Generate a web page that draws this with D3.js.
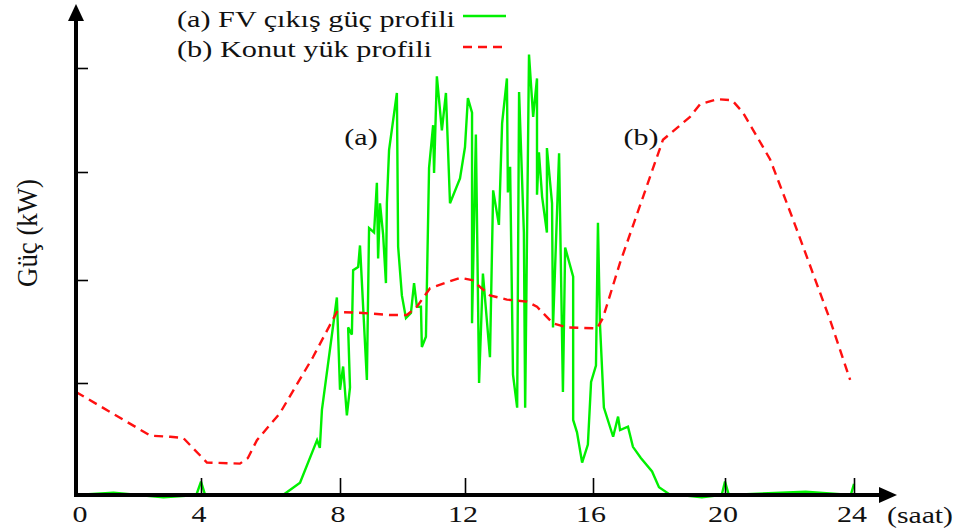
<!DOCTYPE html>
<html>
<head>
<meta charset="utf-8">
<script src="https://cdn.jsdelivr.net/npm/d3@7"></script>
<style>
  html, body { margin: 0; padding: 0; background: #ffffff; }
  svg { display: block; }
  text { font-family: "Liberation Serif", "Times New Roman", serif; fill: #111; }
</style>
</head>
<body>
<svg id="chart" width="959" height="531"></svg>
<script>
// ---------- data ----------
const xTickValues = [0, 4, 8, 12, 16, 20, 24];
const xTickLabels = ["0", "4", "8", "12", "16", "20", "24"];
const yTickValues = [1, 2, 3, 4];

const seriesNames = ["(a) FV çıkış güç profili", "(b) Konut yük profili"];
const curveTags = ["(a)", "(b)"];
const axisTitleX = "(saat)";
const axisTitleY = "Güç (kW)";

// (b) residential load profile
const loadHours = [0, 2.38, 3.02, 3.43, 4.17, 5.12, 5.35, 5.61, 6.27, 7.22, 7.91, 8.74, 9.6, 10.14, 10.46, 10.88,
  11.84, 12.22, 12.78, 13.31, 13.94, 14.25, 14.75, 15.19, 16.12, 16.3, 16.82, 18.12, 18.94, 19.24, 19.76,
  20.22, 20.56, 21.18, 21.4, 22.11, 22.42, 23.26, 23.88];
const loadKW = [0.92, 0.53, 0.52, 0.51, 0.29, 0.28, 0.33, 0.49, 0.73, 1.25, 1.69, 1.68, 1.66, 1.66, 1.74, 1.92,
  2.02, 2.0, 1.85, 1.81, 1.79, 1.74, 1.58, 1.54, 1.53, 1.63, 2.16, 3.31, 3.53, 3.65, 3.70,
  3.69, 3.57, 3.24, 3.12, 2.56, 2.31, 1.61, 1.03];

// (a) PV output profile
const pvHours = [0, 1.2, 2.8, 3.85, 4.0, 4.12, 6.36, 6.85, 7.34, 7.42, 7.48, 7.91, 8.0, 8.1, 8.22, 8.32, 8.26, 8.38,
  8.42, 8.58, 8.64, 8.86, 8.93, 9.09, 9.18, 9.22, 9.28, 9.38, 9.47, 9.5, 9.57, 9.82, 9.86, 9.98, 10.11,
  10.27, 10.37, 10.46, 10.59, 10.62, 10.75, 10.85, 10.98, 11.01, 11.1, 11.26, 11.39, 11.52, 11.84, 12.0,
  12.09, 12.22, 12.22, 12.34, 12.44, 12.56, 12.78, 12.88, 13.06, 13.16, 13.31, 13.34, 13.41, 13.5, 13.63,
  13.69, 13.84, 13.88, 14.0, 14.13, 14.25, 14.25, 14.31, 14.41, 14.56, 14.56, 14.72, 14.75, 14.94, 15.06,
  15.13, 15.38, 15.38, 15.5, 15.66, 15.84, 15.94, 16.09, 16.15, 16.21, 16.33, 16.61, 16.76, 16.82, 17.06,
  17.21, 17.45, 17.79, 18.0, 18.3, 19.3, 19.9, 20.0, 20.12, 22.5, 23.9, 24.0];
const pvKW = [0, 0.02, -0.02, 0, 0.12, 0, 0, 0.11, 0.49, 0.42, 0.76, 1.83, 0.94, 1.16, 0.71, 0.96, 1.54, 1.47,
  2.09, 2.12, 2.32, 1.03, 2.48, 2.44, 2.90, 2.20, 2.71, 2.42, 1.97, 2.71, 3.21, 3.76, 2.31, 1.85, 1.63,
  1.68, 1.97, 1.74, 1.74, 1.35, 1.45, 3.04, 3.45, 2.99, 3.92, 3.40, 3.76, 2.71, 2.94, 3.24,
  3.71, 3.57, 1.58, 3.36, 1.0, 2.06, 1.25, 2.83, 2.51, 3.47, 3.90, 2.81, 3.05, 1.08, 0.78,
  3.77, 2.44, 0.78, 4.13, 3.53, 3.90, 2.79, 3.19, 2.77, 2.44, 3.23, 2.71, 1.54, 3.18, 0.92,
  2.30, 2.03, 0.67, 0.56, 0.29, 0.45, 1.01, 1.17, 2.53, 1.58, 0.78, 0.52, 0.70, 0.58, 0.61,
  0.43, 0.33, 0.21, 0.07, 0.01, -0.02, 0, 0.12, 0, 0.03, 0, 0.1];

// ---------- drawing ----------
const svg = d3.select("#chart");
const SX = 1.25; // horizontal stretch of the original artwork's lettering

const x = d3.scaleLinear().domain(xTickValues).range([76, 201, 340, 465, 593, 725, 854]);
const y = d3.scaleLinear().domain([0, 1, 2, 3, 4]).range([495, 383, 280, 172, 68]);

function label(txt, px, py, anchor, size, opts) {
  opts = opts || {};
  const g = svg.append("g").attr("transform", `translate(${px},${py}) scale(${SX},1)` + (opts.rotate ? " rotate(-90)" : ""));
  const t = g.append("text").attr("x", 0).attr("y", 0)
    .attr("text-anchor", anchor).style("font-size", size + "px").text(txt);
  if (opts.len) t.attr("textLength", opts.len).attr("lengthAdjust", "spacingAndGlyphs");
  return t;
}

// series
const loadData = loadHours.map((h, i) => [h, loadKW[i]]);
const pvData = pvHours.map((h, i) => [h, pvKW[i]]);
const line = d3.line().x(d => x(d[0])).y(d => y(d[1]));

svg.append("path").datum(pvData).attr("d", line)
  .attr("fill", "none").attr("stroke", "#00f000").attr("stroke-width", 2.4)
  .attr("stroke-linejoin", "miter").attr("stroke-miterlimit", 3);

svg.append("path").datum(loadData).attr("d", line)
  .attr("fill", "none").attr("stroke", "#ff1010").attr("stroke-width", 2.4)
  .attr("stroke-dasharray", "9,6");

// axes
const xAxis = d3.axisTop(x).tickValues(xTickValues.slice(1)).tickSize(17).tickFormat("");
const gx = svg.append("g").attr("transform", `translate(0,${y(0)})`).call(xAxis);
gx.select(".domain").remove();
gx.selectAll(".tick line").attr("stroke", "#000").attr("stroke-width", 1.6);

const yAxis = d3.axisRight(y).tickValues(yTickValues).tickSize(12).tickFormat("");
const gy = svg.append("g").attr("transform", `translate(${x(0)},0)`).call(yAxis);
gy.select(".domain").remove();
gy.selectAll(".tick line").attr("stroke", "#000").attr("stroke-width", 1.6);

// axis lines with arrows
svg.append("line").attr("x1", x(0)).attr("x2", 884).attr("y1", y(0)).attr("y2", y(0))
  .attr("stroke", "#000").attr("stroke-width", 4);
svg.append("line").attr("x1", x(0)).attr("x2", x(0)).attr("y1", y(0) + 2).attr("y2", 16)
  .attr("stroke", "#000").attr("stroke-width", 4);
svg.append("path").attr("d", `M897,${y(0)} L879,${y(0) - 8} L879,${y(0) + 8} Z`).attr("fill", "#000");
svg.append("path").attr("d", `M${x(0)},4 L${x(0) - 8},21 L${x(0) + 8},21 Z`).attr("fill", "#000");

// tick labels
xTickValues.forEach((v, i) => {
  label(xTickLabels[i], x(v) - (v === 0 ? -4 : 2), 522, "middle", 24);
});
label(axisTitleX, 887, 523, "start", 24, { len: 66 / SX });

// y title
label(axisTitleY, 37, 233, "middle", 24, { rotate: true, len: 108 });

// legend
label(seriesNames[0], 177, 27, "start", 24, { len: 278 / SX });
label(seriesNames[1], 177, 57, "start", 24, { len: 255 / SX });
svg.append("line").attr("x1", 463).attr("x2", 506).attr("y1", 16).attr("y2", 16)
  .attr("stroke", "#00f000").attr("stroke-width", 2.4);
svg.append("line").attr("x1", 463).attr("x2", 508).attr("y1", 47).attr("y2", 47)
  .attr("stroke", "#ff1010").attr("stroke-width", 2.4).attr("stroke-dasharray", "9,6");

// curve annotations
label(curveTags[0], 361, 145, "middle", 24);
label(curveTags[1], 641, 145, "middle", 24);
</script>
</body>
</html>
